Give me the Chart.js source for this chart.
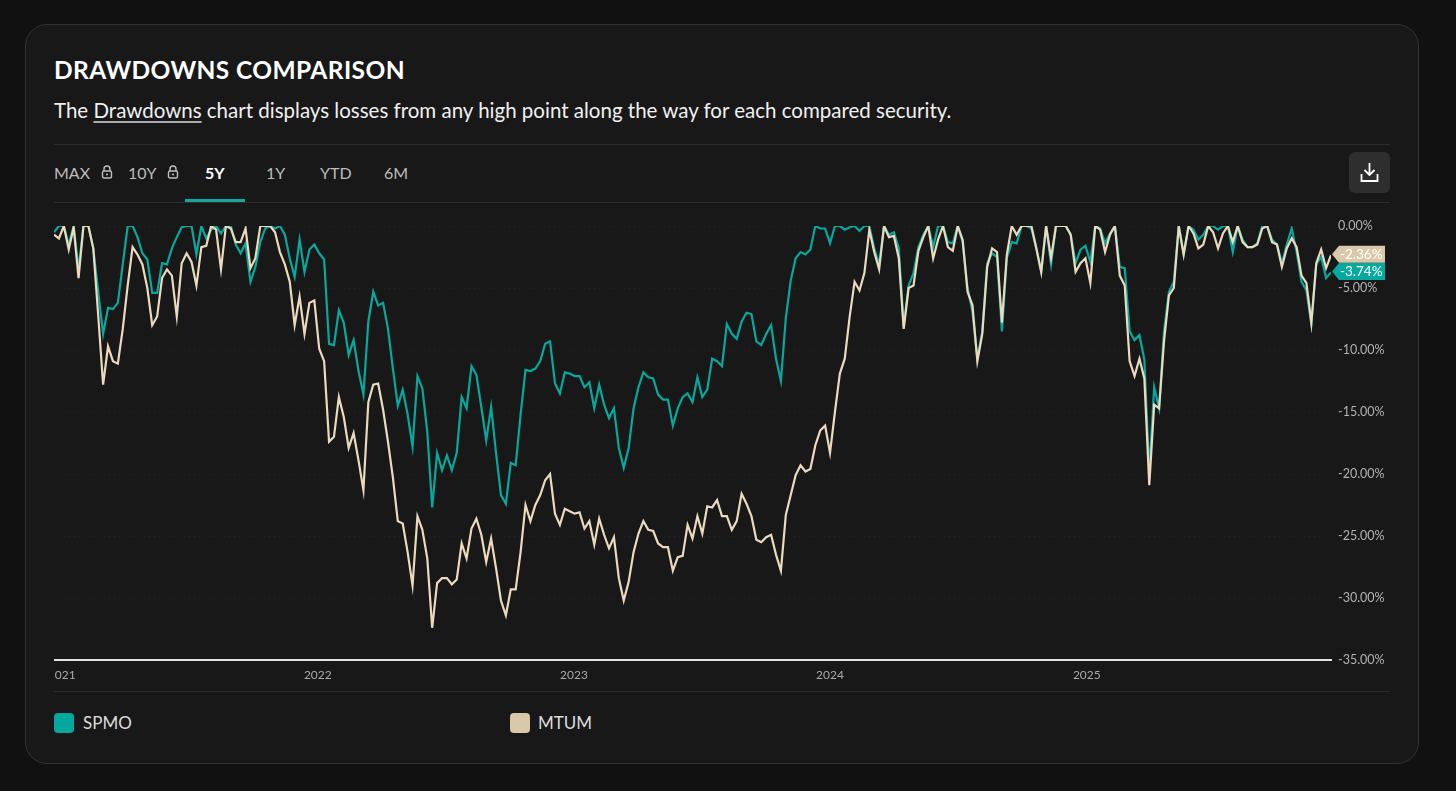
<!DOCTYPE html>
<html>
<head>
<meta charset="utf-8">
<script src="https://cdn.jsdelivr.net/npm/chart.js@4.4.1/dist/chart.umd.min.js"></script>
<style>
    html, body { margin: 0; padding: 0; background: #111111; width: 1456px; height: 791px; overflow: hidden; font-family: Lato, "Open Sans", sans-serif; }
    .card { position: absolute; left: 25px; top: 24px; width: 1394px; height: 740px; background: #181818; border: 1px solid #333; border-radius: 22px; box-sizing: border-box; }
    .abs { position: absolute; white-space: nowrap; }
    .titulo { left: 54px; top: 55px; font-size: 24.5px; font-weight: 700; color: #fff; letter-spacing: 0.4px; }
    .sub { left: 54px; top: 98px; font-size: 20.5px; color: #f0f0f0; }
    .sub u { text-decoration-color: #aaa; text-underline-offset: 3px; }
    .sep { position: absolute; left: 54px; width: 1336px; height: 1px; background: #2c2c2c; }
    .tab { top: 163px; font-size: 16px; color: #bdbdbd; }
    .tab.on { color: #fff; font-weight: 700; }
    .barra { position: absolute; left: 185px; top: 199px; width: 60px; height: 3px; background: #12a99e; }
    .lock { position: absolute; top: 165px; }
    .btn { position: absolute; left: 1349px; top: 152px; width: 41px; height: 41px; background: #2e2e2e; border-radius: 6px; }
    #wrap { position: absolute; left: 54px; top: 205px; width: 1336px; height: 485px; }
    .leg { top: 712px; font-size: 17px; color: #dcdcdc; }
    .sq { position: absolute; top: 713px; width: 20px; height: 20px; border-radius: 4px; }
</style>
</head>
<body>
<div class="card"></div>
<div class="abs titulo">DRAWDOWNS COMPARISON</div>
<div class="abs sub">The <u>Drawdowns</u> chart displays losses from any high point along the way for each compared security.</div>
<div class="sep" style="top:144px"></div>

<div class="abs tab" style="left:54px">MAX</div>
<svg class="lock" style="left:101px" width="12" height="14" viewBox="0 0 12 14"><path d="M3 6V4a3 3 0 0 1 6 0v2" fill="none" stroke="#bdbdbd" stroke-width="1.4"/><rect x="1.5" y="6" width="9" height="7" rx="1.5" fill="none" stroke="#bdbdbd" stroke-width="1.4"/><circle cx="6" cy="9.5" r="1" fill="#bdbdbd"/></svg>
<div class="abs tab" style="left:128px">10Y</div>
<svg class="lock" style="left:167px" width="12" height="14" viewBox="0 0 12 14"><path d="M3 6V4a3 3 0 0 1 6 0v2" fill="none" stroke="#bdbdbd" stroke-width="1.4"/><rect x="1.5" y="6" width="9" height="7" rx="1.5" fill="none" stroke="#bdbdbd" stroke-width="1.4"/><circle cx="6" cy="9.5" r="1" fill="#bdbdbd"/></svg>
<div class="abs tab on" style="left:205px">5Y</div>
<div class="abs tab" style="left:266px">1Y</div>
<div class="abs tab" style="left:320px">YTD</div>
<div class="abs tab" style="left:384px">6M</div>
<div class="barra"></div>
<div class="btn">
    <svg width="41" height="41" viewBox="0 0 41 41"><path d="M20.5 11v12M15.5 18l5 5 5-5" fill="none" stroke="#fff" stroke-width="1.8"/><path d="M12.5 22v7h16v-7" fill="none" stroke="#fff" stroke-width="1.8"/></svg>
</div>
<div class="sep" style="top:202px"></div>

<div id="wrap"><canvas id="graficoDrawdowns"></canvas></div>

<div class="sep" style="top:691px"></div>
<div class="sq" style="left:54px;background:#05a89c"></div>
<div class="abs leg" style="left:83px">SPMO</div>
<div class="sq" style="left:510px;background:#d9c8a9"></div>
<div class="abs leg" style="left:538px">MTUM</div>

<script>
// semanas desde el 21-dic-2020
let inicio = Date.UTC(2020, 11, 21);
let anios = [2021, 2022, 2023, 2024, 2025];
let series = ["SPMO", "MTUM"];

let spmo = [
    -0.5, 0, 0, -1.5, 0, -3.5, 0, 0, -1.8, -5.3,
    -8.7, -6.6, -6.7, -6.2, -3.1, 0, 0, -0.9, -2.2, -2.7,
    -5.4, -5.4, -3.0, -3.1, -1.8, -0.9, -0.1, 0, 0, -2.3,
    0, -1.0, -0.3, 0, -0.6, 0, 0, -1.5, -2.2, -1.4,
    -4.5, -3.3, -1.3, -0.2, 0, -0.2, 0, -0.7, -2.6, -4.1,
    -1.1, -3.7, -1.9, -1.5, -2.2, -2.7, -9.5, -9.6, -6.8, -7.8,
    -10.4, -9.2, -11.7, -13.6, -7.7, -5.3, -6.4, -6.2, -8.3, -11.5,
    -14.5, -13.2, -15.2, -17.8, -12.1, -13.1, -16.6, -22.7, -18.3, -19.7,
    -18.5, -19.7, -18.3, -13.8, -14.7, -11.3, -12.0, -14.6, -17.3, -14.6,
    -18.3, -21.7, -22.4, -19.1, -19.3, -15.2, -11.6, -11.7, -11.5, -10.9,
    -9.5, -9.3, -12.7, -13.5, -11.8, -11.9, -12.1, -12.1, -13.0, -12.6,
    -14.7, -12.8, -14.4, -15.5, -14.7, -17.9, -19.5, -17.9, -14.7, -13.0,
    -11.8, -12.2, -12.3, -13.6, -14.0, -14.0, -16.1, -14.7, -13.8, -13.5,
    -14.2, -12.2, -13.8, -13.2, -10.7, -10.9, -11.3, -7.9, -8.7, -9.1,
    -7.7, -7.0, -7.1, -9.3, -9.6, -8.7, -8.0, -10.7, -12.5, -7.4,
    -4.4, -2.6, -2.1, -2.3, -1.9, 0, -0.2, -0.2, -1.4, 0,
    0, -0.3, -0.1, 0, -0.4, 0, 0, -1.8, -3.1, 0,
    -0.7, -0.5, -1.8, -8.1, -4.8, -3.8, -1.7, -0.7, 0, -1.7,
    0, 0, -1.3, -1.4, 0, -1.3, -5.0, -6.9, -10.7, -8.5,
    -3.0, -2.2, -2.5, -8.5, -2.6, -1.3, -1.4, 0, 0, -0.2,
    -1.8, -3.7, 0, -3.1, 0, 0, 0, -0.7, -3.0, -1.9,
    -1.6, -2.9, 0, -0.2, -1.4, -0.6, 0, -3.3, -3.4, -8.5,
    -9.2, -8.8, -10.8, -19.8, -13.0, -14.7, -8.5, -5.3, -4.5, 0,
    -2.3, 0, -0.3, -1.1, -0.7, 0, 0, -0.3, 0, 0,
    -2.1, 0, -1.1, -1.7, -1.7, -1.4, 0, 0, -1.1, -1.5,
    -3.0, -1.5, -0.2, -2.1, -4.5, -5.2, -7.9, -3.1, -2.5, -4.2,
    -3.74
];

let mtum = [
    -0.7, -1.0, 0, -1.9, -0.1, -4.2, 0, 0, -1.8, -7.2,
    -12.8, -9.7, -10.9, -11.1, -8.3, -4.8, -1.7, -2.3, -3.1, -5.0,
    -8.0, -7.3, -4.2, -3.5, -4.0, -7.3, -3.0, -2.2, -2.9, -4.8,
    -1.7, -1.6, 0, -0.3, -3.5, 0, -0.2, -1.3, -1.3, -0.2,
    -3.4, -2.6, 0, 0, 0, -0.5, -2.1, -3.1, -4.5, -8.0,
    -5.7, -8.7, -6.2, -6.0, -9.9, -10.9, -17.4, -17.0, -13.8, -15.4,
    -17.9, -16.7, -18.9, -21.3, -14.2, -12.8, -12.7, -14.8, -17.4, -20.3,
    -23.8, -24.0, -26.3, -29.0, -23.4, -24.5, -26.8, -32.4, -28.8, -28.4,
    -28.4, -28.9, -28.5, -25.6, -26.8, -24.4, -23.6, -24.9, -27.1, -25.2,
    -27.6, -30.2, -31.4, -29.3, -29.3, -26.3, -22.5, -23.8, -22.5, -21.7,
    -20.5, -20.0, -23.2, -24.1, -22.8, -23.0, -23.2, -23.1, -24.4, -23.8,
    -25.7, -23.6, -24.9, -26.0, -25.1, -28.4, -30.2, -28.7, -26.3, -24.8,
    -23.8, -24.5, -24.6, -25.6, -25.9, -25.9, -27.8, -26.7, -26.6, -24.1,
    -25.2, -23.4, -24.8, -22.6, -22.7, -22.1, -23.4, -23.4, -24.5, -23.8,
    -21.6, -22.4, -23.4, -25.3, -25.5, -25.1, -24.9, -26.5, -27.8, -23.3,
    -21.7, -20.1, -19.3, -19.8, -19.6, -17.7, -16.5, -16.1, -18.3, -15.0,
    -11.9, -10.7, -7.3, -4.5, -5.2, -3.8, -0.3, -2.1, -3.5, 0,
    -0.9, -0.8, -2.6, -8.3, -5.0, -4.8, -2.0, -0.9, 0, -2.6,
    -1.1, 0, -1.7, -2.0, 0, -1.1, -5.3, -6.4, -10.9, -8.7,
    -3.3, -1.8, -2.1, -7.8, -2.3, 0, -0.7, 0, 0, 0,
    -1.8, -3.7, 0, -2.6, 0, 0, 0, -0.7, -3.7, -3.0,
    -2.6, -4.6, 0, -0.3, -2.1, -0.7, 0, -4.0, -4.8, -10.9,
    -12.1, -10.7, -12.3, -20.9, -14.4, -14.7, -9.3, -5.6, -5.0, 0,
    -2.3, 0, -0.6, -1.8, -1.5, 0, -0.5, -1.8, -0.6, 0,
    -1.3, 0, -1.3, -1.7, -1.7, -1.5, -0.2, 0, -1.3, -1.5,
    -3.3, -1.8, -1.0, -1.7, -4.0, -4.6, -7.8, -3.0, -1.9, -3.4,
    -2.36
];

let colores = ["#06a99d", "#ebdabd"];
let coloresEtiqueta = ["#06a99d", "#d9c8a9"];

let semanas = spmo.map((v, i) => inicio + i * 7 * 864e5);

// etiquetas del ultimo valor a la derecha
const etiquetasFinales = {
    id: "etiquetasFinales",
    afterDatasetsDraw(chart) {
        const ctx = chart.ctx;
        const area = chart.chartArea;
        const y = chart.scales.y;
        ctx.save();
        ctx.font = "13.5px Lato";
        ctx.textBaseline = "middle";
        [0, 1].forEach(function (d) {
            let datos = chart.data.datasets[d].data;
            let v = datos[datos.length - 1].y;
            let py = y.getPixelForValue(v) - 1;
            let x0 = area.right + 8;
            ctx.fillStyle = coloresEtiqueta[d];
            ctx.beginPath();
            ctx.moveTo(area.right + 1, py);
            ctx.lineTo(x0, py - 8.5);
            ctx.lineTo(x0 + 46, py - 8.5);
            ctx.lineTo(x0 + 46, py + 8.5);
            ctx.lineTo(x0, py + 8.5);
            ctx.closePath();
            ctx.fill();
            ctx.fillStyle = "#ffffff";
            ctx.fillText(v.toFixed(2) + "%", x0 + 1, py + 0.5);
        });
        ctx.restore();
    }
};

new Chart(document.getElementById("graficoDrawdowns"), {
    type: "line",
    data: {
        datasets: [
            {
                label: series[0],
                data: semanas.map((t, i) => ({ x: t, y: spmo[i] })),
                borderColor: colores[0],
                borderWidth: 2.2,
                pointRadius: 0,
                order: 2
            },
            {
                label: series[1],
                data: semanas.map((t, i) => ({ x: t, y: mtum[i] })),
                borderColor: colores[1],
                borderWidth: 2.2,
                pointRadius: 0,
                order: 1
            }
        ]
    },
    options: {
        responsive: true,
        maintainAspectRatio: false,
        animation: false,
        layout: { padding: { top: 21, left: 0, right: 0, bottom: 0 } },
        plugins: {
            legend: { display: false },
            tooltip: { enabled: false }
        },
        scales: {
            x: {
                type: "linear",
                min: semanas[0],
                max: semanas[semanas.length - 1],
                grid: { display: false },
                border: { display: true, color: "#e4e4e4", width: 2 },
                ticks: {
                    color: "#a9a9a9",
                    font: { family: "Lato", size: 12 },
                    padding: 0,
                    maxRotation: 0,
                    autoSkip: false,
                    callback: function (v) { return String(new Date(v).getUTCFullYear()); }
                },
                afterBuildTicks: function (scale) {
                    scale.ticks = anios.map(a => ({ value: Date.UTC(a, 0, 1) }));
                },
                afterFit: function (scale) {
                    scale.paddingLeft = 0;
                    scale.paddingRight = 0;
                    scale.height = 30;
                }
            },
            y: {
                position: "right",
                min: -35,
                max: 0,
                grid: { color: "rgba(255,255,255,0.05)", drawTicks: false },
                border: { display: false, dash: [1, 4] },
                ticks: {
                    stepSize: 5,
                    color: "#b3b3b3",
                    font: { family: "Lato", size: 12.5 },
                    padding: 7,
                    callback: function (v) { return (v === 0 ? 0 : v).toFixed(2) + "%"; }
                },
                afterFit: function (scale) {
                    scale.width = 59;
                }
            }
        }
    },
    plugins: [etiquetasFinales]
});
</script>
</body>
</html>
